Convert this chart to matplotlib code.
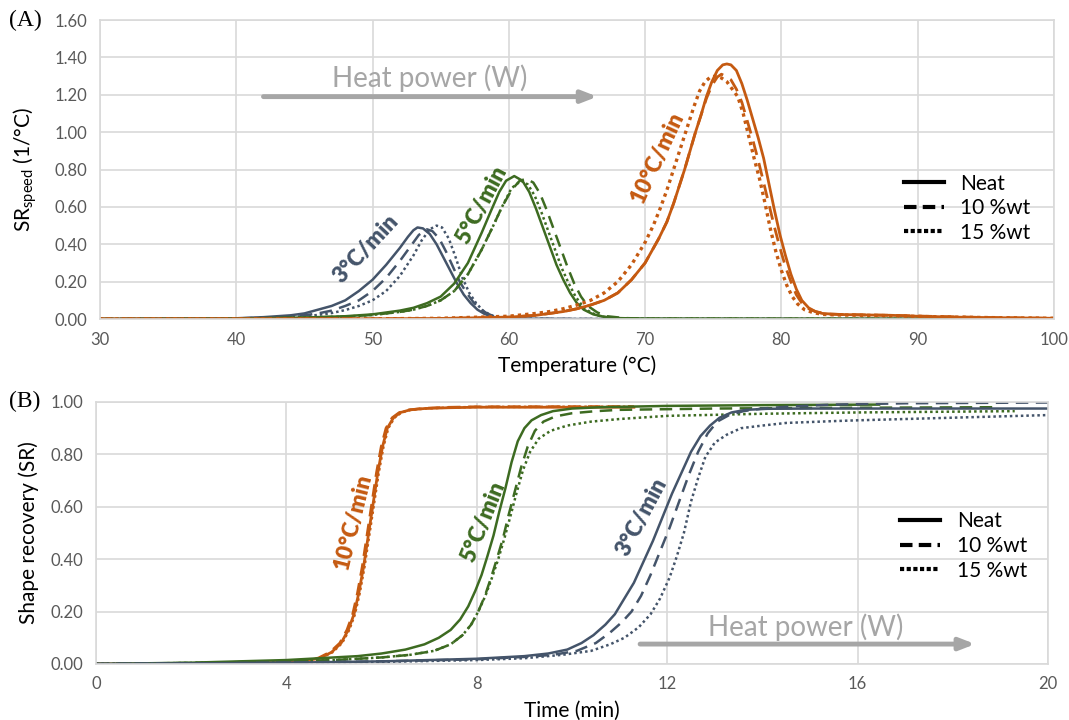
import matplotlib

matplotlib.use("Agg")
import matplotlib.pyplot as plt
from matplotlib.lines import Line2D

plt.rcParams["font.family"] = ["Lato", "DejaVu Sans"]

# ---- panel A: SR speed vs temperature ----
a3_neat_t = [30, 40, 42, 44, 45, 46, 47, 48, 49, 50, 51, 52, 52.6, 53.0, 53.3, 53.7, 54.2, 54.7, 55.2, 55.7, 56.2, 56.7, 57.2, 57.7, 58.2, 58.8, 59.5, 61, 65, 100]
a3_neat_v = [0, 0.004, 0.01, 0.02, 0.03, 0.05, 0.07, 0.10, 0.15, 0.21, 0.29, 0.38, 0.44, 0.475, 0.49, 0.485, 0.455, 0.40, 0.33, 0.26, 0.19, 0.13, 0.085, 0.05, 0.028, 0.012, 0.005, 0.002, 0, 0]
a3_10_t = [30, 40, 43, 45, 46, 47, 48, 49, 50, 51, 52, 52.8, 53.4, 54.0, 54.4, 54.9, 55.4, 55.9, 56.4, 56.9, 57.4, 57.9, 58.4, 59.0, 59.8, 61, 65, 100]
a3_10_v = [0, 0.003, 0.01, 0.02, 0.03, 0.045, 0.07, 0.10, 0.15, 0.22, 0.31, 0.39, 0.45, 0.48, 0.47, 0.43, 0.36, 0.28, 0.20, 0.14, 0.09, 0.055, 0.03, 0.012, 0.004, 0.001, 0, 0]
a3_15_t = [30, 40, 43, 45, 46, 47, 48, 49, 50, 51, 52, 53, 53.6, 54.2, 54.7, 55.1, 55.6, 56.1, 56.6, 57.1, 57.6, 58.1, 58.7, 59.3, 60, 61, 65, 100]
a3_15_v = [0, 0.002, 0.008, 0.015, 0.022, 0.032, 0.048, 0.07, 0.10, 0.15, 0.23, 0.34, 0.42, 0.48, 0.50, 0.49, 0.43, 0.33, 0.22, 0.14, 0.085, 0.045, 0.02, 0.008, 0.003, 0.001, 0, 0]

a5_neat_t = [30, 40, 45, 48, 50, 52, 53, 54, 55, 56, 57, 58, 58.7, 59.3, 59.8, 60.4, 61.0, 61.5, 62.0, 62.5, 63.0, 63.5, 64.0, 64.5, 65.0, 65.5, 66.2, 67, 68, 70, 100]
a5_neat_v = [0, 0.003, 0.008, 0.015, 0.025, 0.045, 0.06, 0.085, 0.12, 0.19, 0.30, 0.46, 0.58, 0.68, 0.74, 0.765, 0.74, 0.68, 0.59, 0.49, 0.39, 0.29, 0.21, 0.14, 0.085, 0.05, 0.025, 0.012, 0.005, 0.002, 0]
a5_10_t = [30, 40, 45, 48, 50, 52, 53, 54, 55, 56, 57, 58, 58.8, 59.5, 60.2, 60.8, 61.3, 61.8, 62.3, 62.8, 63.3, 63.8, 64.3, 64.8, 65.3, 65.8, 66.5, 67.2, 68.5, 70, 100]
a5_10_v = [0, 0.002, 0.007, 0.013, 0.022, 0.038, 0.05, 0.07, 0.10, 0.15, 0.24, 0.37, 0.49, 0.60, 0.69, 0.74, 0.75, 0.73, 0.67, 0.58, 0.48, 0.38, 0.28, 0.19, 0.12, 0.07, 0.035, 0.015, 0.005, 0.002, 0]
a5_15_t = [30, 40, 45, 48, 50, 52, 53, 54, 55, 56, 57, 58, 58.8, 59.5, 60.2, 60.9, 61.4, 61.9, 62.4, 62.9, 63.4, 63.9, 64.4, 64.9, 65.4, 66.0, 66.7, 67.5, 68.5, 70, 100]
a5_15_v = [0, 0.002, 0.007, 0.013, 0.022, 0.038, 0.05, 0.07, 0.10, 0.15, 0.24, 0.37, 0.49, 0.60, 0.70, 0.74, 0.72, 0.66, 0.57, 0.47, 0.37, 0.27, 0.19, 0.12, 0.07, 0.035, 0.015, 0.006, 0.003, 0.002, 0]

a10_neat_t = [30, 50, 55, 60, 62, 63, 64, 65, 66, 67, 68, 69, 70, 71, 71.6, 72.1, 72.5, 72.9, 73.3, 73.7, 74.1, 74.5, 74.9, 75.3, 75.7, 76.0, 76.3, 76.7, 77.1, 77.5, 77.9, 78.3, 78.7, 79.1, 79.5, 79.9, 80.3, 80.7, 81.1, 81.5, 82.0, 82.5, 83.0, 83.6, 84.5, 86, 88, 90, 93, 96, 100]
a10_neat_v = [0, 0.001, 0.003, 0.01, 0.02, 0.03, 0.04, 0.055, 0.075, 0.10, 0.14, 0.21, 0.30, 0.43, 0.52, 0.62, 0.71, 0.80, 0.90, 1.00, 1.09, 1.19, 1.27, 1.33, 1.36, 1.365, 1.36, 1.33, 1.26, 1.17, 1.07, 0.97, 0.86, 0.72, 0.58, 0.45, 0.34, 0.24, 0.16, 0.10, 0.06, 0.04, 0.03, 0.027, 0.024, 0.022, 0.02, 0.015, 0.01, 0.007, 0.004]
a10_10_t = [30, 50, 55, 60, 62, 63, 64, 65, 66, 67, 68, 69, 70, 71, 71.6, 72.1, 72.5, 72.9, 73.3, 73.7, 74.1, 74.5, 74.9, 75.3, 75.6, 75.9, 76.3, 76.7, 77.1, 77.5, 77.9, 78.3, 78.7, 79.1, 79.5, 79.9, 80.3, 80.7, 81.1, 81.5, 82.0, 82.5, 83.0, 83.6, 84.5, 86, 88, 90, 93, 96, 100]
a10_10_v = [0, 0.001, 0.003, 0.01, 0.02, 0.03, 0.04, 0.055, 0.075, 0.10, 0.14, 0.21, 0.30, 0.43, 0.52, 0.62, 0.71, 0.80, 0.90, 1.00, 1.09, 1.18, 1.25, 1.295, 1.31, 1.30, 1.28, 1.23, 1.16, 1.06, 0.96, 0.85, 0.73, 0.61, 0.49, 0.38, 0.28, 0.20, 0.13, 0.085, 0.055, 0.04, 0.032, 0.026, 0.024, 0.022, 0.02, 0.016, 0.011, 0.007, 0.004]
a10_15_t = [30, 50, 55, 60, 62, 63, 64, 65, 66, 67, 68, 69, 70, 70.6, 71.1, 71.6, 72.0, 72.4, 72.8, 73.2, 73.6, 74.0, 74.4, 74.8, 75.2, 75.6, 76.0, 76.4, 76.8, 77.2, 77.6, 78.0, 78.4, 78.8, 79.2, 79.6, 80.0, 80.4, 80.8, 81.2, 81.7, 82.3, 83.0, 84, 86, 88, 90, 93, 96, 100]
a10_15_v = [0, 0.001, 0.004, 0.015, 0.03, 0.04, 0.055, 0.075, 0.10, 0.14, 0.20, 0.29, 0.41, 0.50, 0.59, 0.69, 0.78, 0.87, 0.96, 1.05, 1.14, 1.22, 1.27, 1.295, 1.30, 1.29, 1.27, 1.23, 1.19, 1.10, 0.98, 0.86, 0.75, 0.62, 0.48, 0.36, 0.26, 0.18, 0.12, 0.08, 0.05, 0.035, 0.025, 0.022, 0.02, 0.018, 0.014, 0.01, 0.007, 0.004]

# ---- panel B: shape recovery vs time ----
b10_neat_t = [0, 2, 3, 4, 4.4, 4.7, 4.95, 5.15, 5.3, 5.42, 5.52, 5.62, 5.72, 5.82, 5.92, 6.02, 6.12, 6.25, 6.4, 6.6, 6.9, 7.4, 8, 11.3]
b10_neat_v = [0, 0.002, 0.003, 0.006, 0.012, 0.022, 0.045, 0.08, 0.13, 0.19, 0.27, 0.37, 0.49, 0.61, 0.73, 0.83, 0.90, 0.94, 0.96, 0.97, 0.975, 0.978, 0.98, 0.98]
b10_10_t = [0, 2, 3, 4, 4.37, 4.67, 4.92, 5.12, 5.27, 5.39, 5.49, 5.59, 5.69, 5.79, 5.89, 5.99, 6.09, 6.22, 6.37, 6.57, 6.87, 7.37, 8, 11.3]
b10_10_v = [0, 0.002, 0.003, 0.006, 0.013, 0.023, 0.046, 0.08, 0.13, 0.19, 0.27, 0.37, 0.49, 0.61, 0.73, 0.83, 0.90, 0.94, 0.96, 0.97, 0.976, 0.98, 0.982, 0.983]
b10_15_t = [0, 2, 3, 4, 4.42, 4.72, 4.97, 5.17, 5.32, 5.44, 5.54, 5.64, 5.74, 5.84, 5.94, 6.04, 6.14, 6.27, 6.42, 6.62, 6.92, 7.42, 8, 11.3]
b10_15_v = [0, 0.002, 0.003, 0.006, 0.012, 0.022, 0.045, 0.08, 0.13, 0.19, 0.27, 0.37, 0.49, 0.61, 0.73, 0.83, 0.90, 0.94, 0.96, 0.97, 0.975, 0.979, 0.981, 0.982]

b5_neat_t = [0, 2, 3, 4, 4.5, 5.5, 6.0, 6.5, 6.9, 7.2, 7.45, 7.65, 7.82, 7.97, 8.1, 8.22, 8.35, 8.47, 8.6, 8.73, 8.86, 9.0, 9.15, 9.35, 9.6, 10.0, 10.6, 12, 14, 16.45]
b5_neat_v = [0, 0.005, 0.01, 0.015, 0.02, 0.03, 0.04, 0.055, 0.075, 0.10, 0.13, 0.17, 0.22, 0.28, 0.34, 0.41, 0.49, 0.58, 0.67, 0.77, 0.85, 0.90, 0.93, 0.95, 0.965, 0.975, 0.98, 0.985, 0.988, 0.99]
b5_10_t = [0, 2, 3, 4, 5, 6, 6.6, 7.1, 7.45, 7.7, 7.88, 8.03, 8.17, 8.3, 8.42, 8.55, 8.67, 8.8, 8.93, 9.07, 9.22, 9.4, 9.65, 10.0, 10.5, 11, 13, 16, 18.9]
b5_10_v = [0, 0.004, 0.007, 0.01, 0.015, 0.025, 0.035, 0.05, 0.075, 0.11, 0.15, 0.20, 0.26, 0.33, 0.40, 0.48, 0.57, 0.66, 0.75, 0.83, 0.89, 0.925, 0.945, 0.957, 0.965, 0.97, 0.975, 0.978, 0.98]
b5_15_t = [0, 2, 3, 4, 5, 6, 6.6, 7.1, 7.45, 7.7, 7.88, 8.03, 8.18, 8.32, 8.45, 8.58, 8.7, 8.83, 8.97, 9.12, 9.3, 9.55, 9.9, 10.4, 11, 12, 14, 16, 19.3]
b5_15_v = [0, 0.004, 0.007, 0.01, 0.015, 0.025, 0.035, 0.05, 0.075, 0.11, 0.15, 0.20, 0.26, 0.33, 0.40, 0.48, 0.56, 0.65, 0.74, 0.81, 0.86, 0.89, 0.91, 0.925, 0.935, 0.947, 0.955, 0.96, 0.965]

b3_neat_t = [0, 2, 4, 6, 8, 9, 9.5, 9.9, 10.2, 10.45, 10.7, 10.9, 11.1, 11.3, 11.5, 11.7, 11.9, 12.1, 12.3, 12.5, 12.7, 12.9, 13.1, 13.35, 13.65, 14.1, 15, 16, 20]
b3_neat_v = [0, 0.002, 0.005, 0.01, 0.02, 0.03, 0.04, 0.055, 0.08, 0.11, 0.15, 0.19, 0.25, 0.31, 0.39, 0.47, 0.56, 0.65, 0.73, 0.81, 0.87, 0.91, 0.94, 0.96, 0.97, 0.974, 0.975, 0.975, 0.975]
b3_10_t = [0, 2, 4, 6, 8, 9, 9.6, 10.1, 10.5, 10.8, 11.05, 11.25, 11.45, 11.65, 11.85, 12.05, 12.25, 12.45, 12.65, 12.85, 13.05, 13.3, 13.6, 14.0, 14.6, 15.5, 17, 20]
b3_10_v = [0, 0.002, 0.005, 0.01, 0.018, 0.027, 0.035, 0.05, 0.08, 0.12, 0.16, 0.20, 0.26, 0.34, 0.43, 0.52, 0.62, 0.72, 0.81, 0.88, 0.925, 0.95, 0.965, 0.975, 0.983, 0.99, 0.995, 0.998]
b3_15_t = [0, 2, 4, 6, 8, 9, 9.8, 10.4, 10.8, 11.1, 11.4, 11.65, 11.85, 12.05, 12.2, 12.35, 12.5, 12.65, 12.8, 13.0, 13.25, 13.55, 14.0, 14.5, 15.5, 16, 18, 20]
b3_15_v = [0, 0.002, 0.004, 0.008, 0.015, 0.022, 0.035, 0.05, 0.075, 0.10, 0.14, 0.19, 0.25, 0.33, 0.41, 0.50, 0.62, 0.71, 0.79, 0.845, 0.875, 0.90, 0.91, 0.92, 0.927, 0.93, 0.94, 0.95]

legend_labels = ["Neat", "10 %wt", "15 %wt"]
rate_labels = ["3°C/min", "5°C/min", "10°C/min"]

C3 = "#44546A"
C5 = "#3D6B21"
C10 = "#C55A11"
GRID = "#D9D9D9"
TICK = "#595959"
ARROW = "#A6A6A6"

DASH = (0, (5, 3))
DOT = (0, (1, 1.2))


def style_axes(ax):
    ax.grid(True, color=GRID, linewidth=1.2)
    ax.set_axisbelow(True)
    for sp in ax.spines.values():
        sp.set_color(GRID)
        sp.set_linewidth(1.2)
    ax.tick_params(length=0, labelsize=12, labelcolor=TICK, pad=9)


def add_legend(ax, anchor):
    handles = [
        Line2D([], [], color="black", lw=3, linestyle="-"),
        Line2D([], [], color="black", lw=3, linestyle=(0, (3, 1.5))),
        Line2D([], [], color="black", lw=3, linestyle=(0, (1, 0.6))),
    ]
    ax.legend(handles, legend_labels, loc="center left", bbox_to_anchor=anchor,
              frameon=False, fontsize=15, handlelength=1.9, handletextpad=0.8,
              labelspacing=0.22, borderaxespad=0, borderpad=0)


fig = plt.figure(figsize=(10.69, 7.2), dpi=100)

# panel A
axa = fig.add_axes([0.0935, 0.5569, 0.8924, 0.4153])
style_axes(axa)
axa.plot(a3_neat_t, a3_neat_v, color=C3, lw=1.8)
axa.plot(a3_10_t, a3_10_v, color=C3, lw=1.8, linestyle=DASH)
axa.plot(a3_15_t, a3_15_v, color=C3, lw=1.8, linestyle=DOT)
axa.plot(a5_neat_t, a5_neat_v, color=C5, lw=1.8)
axa.plot(a5_10_t, a5_10_v, color=C5, lw=1.8, linestyle=DASH)
axa.plot(a5_15_t, a5_15_v, color=C5, lw=1.8, linestyle=DOT)
axa.plot(a10_neat_t, a10_neat_v, color=C10, lw=2.0)
axa.plot(a10_10_t, a10_10_v, color=C10, lw=2.0, linestyle=DASH)
axa.plot(a10_15_t, a10_15_v, color=C10, lw=2.4, linestyle=DOT)
axa.set_xlim(30, 100)
axa.set_ylim(0, 1.6)
axa.set_xticks(range(30, 101, 10))
axa.set_yticks([i * 0.2 for i in range(9)])
axa.set_yticklabels([f"{i * 0.2:.2f}" for i in range(9)])
axa.set_xlabel("Temperature (°C)", fontsize=15, labelpad=6)
axa.set_ylabel("SR$_{\\mathregular{speed}}$ (1/°C)", fontsize=15)
axa.yaxis.set_label_coords(-0.064, 0.5)

axa.annotate("", xy=(66.5, 1.19), xytext=(42.0, 1.19),
             arrowprops=dict(arrowstyle="-|>,head_length=0.9,head_width=0.35",
                             color=ARROW, lw=3.5, shrinkA=0, shrinkB=0))
axa.text(54.2, 1.29, "Heat power (W)", color=ARROW, fontsize=20,
         ha="center", va="center")
axa.text(49.5, 0.374, rate_labels[0], color=C3, fontsize=16, fontweight="heavy",
         rotation=47, ha="center", va="center")
axa.text(58.0, 0.61, rate_labels[1], color=C5, fontsize=16, fontweight="heavy",
         rotation=62, ha="center", va="center")
axa.text(70.9, 0.866, rate_labels[2], color=C10, fontsize=16, fontweight="heavy",
         rotation=65, ha="center", va="center")
add_legend(axa, (0.843, 0.371))

# panel B
axb = fig.add_axes([0.0898, 0.0778, 0.8906, 0.3639])
style_axes(axb)
axb.plot(b10_neat_t, b10_neat_v, color=C10, lw=2.0)
axb.plot(b10_10_t, b10_10_v, color=C10, lw=1.8, linestyle=DASH)
axb.plot(b10_15_t, b10_15_v, color=C10, lw=1.8, linestyle=DOT)
axb.plot(b5_neat_t, b5_neat_v, color=C5, lw=1.8)
axb.plot(b5_10_t, b5_10_v, color=C5, lw=1.8, linestyle=DASH)
axb.plot(b5_15_t, b5_15_v, color=C5, lw=1.8, linestyle=DOT)
axb.plot(b3_neat_t, b3_neat_v, color=C3, lw=1.8)
axb.plot(b3_10_t, b3_10_v, color=C3, lw=1.8, linestyle=DASH)
axb.plot(b3_15_t, b3_15_v, color=C3, lw=1.8, linestyle=DOT)
axb.set_xlim(0, 20)
axb.set_ylim(0, 1.0)
axb.set_xticks(range(0, 21, 4))
axb.set_yticks([i * 0.2 for i in range(6)])
axb.set_yticklabels([f"{i * 0.2:.2f}" for i in range(6)])
axb.set_xlabel("Time (min)", fontsize=15, labelpad=6)
axb.set_ylabel("Shape recovery (SR)", fontsize=15)
axb.yaxis.set_label_coords(-0.060, 0.5)

axb.annotate("", xy=(18.47, 0.076), xytext=(11.43, 0.076),
             arrowprops=dict(arrowstyle="-|>,head_length=0.9,head_width=0.35",
                             color=ARROW, lw=3.5, shrinkA=0, shrinkB=0))
axb.text(14.9, 0.141, "Heat power (W)", color=ARROW, fontsize=20,
         ha="center", va="center")
axb.text(5.4, 0.542, rate_labels[2], color=C10, fontsize=16, fontweight="heavy",
         rotation=76, ha="center", va="center")
axb.text(8.13, 0.542, rate_labels[1], color=C5, fontsize=16, fontweight="heavy",
         rotation=68, ha="center", va="center")
axb.text(11.47, 0.561, rate_labels[0], color=C3, fontsize=16, fontweight="heavy",
         rotation=62, ha="center", va="center")
add_legend(axb, (0.845, 0.45))

fig.text(0.008, 0.972, "(A)", fontsize=17, family="Liberation Serif", va="center")
fig.text(0.008, 0.442, "(B)", fontsize=17, family="Liberation Serif", va="center")

fig.savefig("out.png", dpi=100)
